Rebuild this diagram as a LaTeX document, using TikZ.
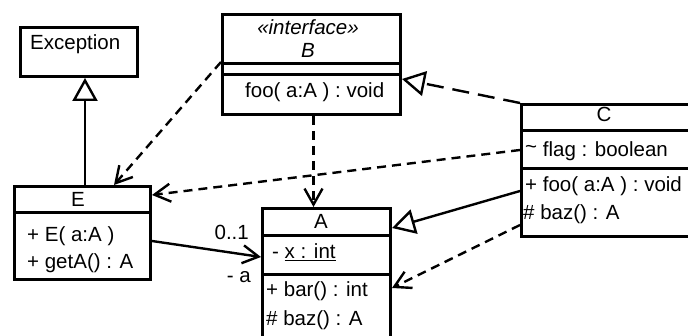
\documentclass[tikz,border=0pt]{standalone}
\usepackage{fontspec}
\setmainfont{Liberation Sans}
\usetikzlibrary{arrows.meta}

\tikzset{
  cls/.style={draw, line width=3pt, anchor=north west, inner sep=0pt},
  sep/.style={line width=3pt},
  txt/.style={inner sep=0pt, anchor=base west},
  ttl/.style={inner sep=0pt, anchor=base},
  dep/.style={line width=2.4pt, dash pattern=on 9pt off 6pt, -{Straight Barb[length=16pt,width=18pt]}},
  real/.style={line width=2.4pt, dash pattern=on 17pt off 9pt, -{Triangle[open,length=23pt,width=25pt]}},
  gen/.style={line width=2.4pt, -{Triangle[open,length=23pt,width=25pt]}},
  assoc/.style={line width=2.4pt, -{Straight Barb[length=16pt,width=18pt]}},
}

\begin{document}
\begin{tikzpicture}[x=1pt, y=-1pt, font=\fontsize{20.5}{24}\selectfont]
  \useasboundingbox (0,0) rectangle (688,336);

  % Exception
  \node[cls, minimum width=117, minimum height=49] (Exc) at (19,26) {};
  \node[txt] (Exc-name) at (30,50) {Exception};

  % interface B
  \node[cls, minimum width=178, minimum height=100] (B) at (221,13) {};
  \draw[sep] (B.west |- 0,64) -- (B.east |- 0,64);
  \draw[sep] (B.west |- 0,75) -- (B.east |- 0,75);
  \node[ttl] (B-st) at (308,35) {\itshape «interface»};
  \node[ttl] (B-name) at (308,58) {\itshape B};
  \node[txt] (B-m1) at (245,98) {foo( a:A ) : void};

  % C
  \node[cls, minimum width=180, minimum height=132] (C) at (520,103) {};
  \draw[sep] (C.west |- 0,131) -- (C.east |- 0,131);
  \draw[sep] (C.west |- 0,169) -- (C.east |- 0,169);
  \node[ttl] (C-name) at (604,122) {C};
  \node[txt] (C-a1) at (525,157) {\raisebox{3pt}{\textasciitilde}{} flag : boolean};
  \node[txt] (C-m1) at (525,192) {+ foo( a:A ) : void};
  \node[txt] (C-m2) at (523,220) {\# baz() : A};

  % E
  \node[cls, minimum width=136, minimum height=93] (E) at (13,185) {};
  \draw[sep] (E.west |- 0,213) -- (E.east |- 0,213);
  \node[ttl] (E-name) at (78,207) {E};
  \node[txt] (E-m1) at (27,242) {+ E( a:A )};
  \node[txt] (E-m2) at (27,269) {+ getA() : A};

  % A
  \node[cls, minimum width=128, minimum height=140] (A) at (261,207) {};
  \draw[sep] (A.west |- 0,236) -- (A.east |- 0,236);
  \draw[sep] (A.west |- 0,275) -- (A.east |- 0,275);
  \node[ttl] (A-name) at (321,229) {A};
  \node[txt] (A-a1) at (272,259) {- \underline{x : int}};
  \node[txt] (A-m1) at (266,297) {+ bar() : int};
  \node[txt] (A-m2) at (266,326) {\# baz() : A};

  % relations
  \draw[gen] (E.north -| 85,0) -- (Exc.south -| 85,0);
  \draw[dep] ([yshift=-49pt]B.north west) -- ([xshift=101pt]E.north west);
  \draw[dep] ([xshift=2pt]B.south) -- ([xshift=2pt]B.south |- A.north);
  \draw[real] (C.north west) -- ([yshift=-66pt]B.north east);
  \draw[dep] ([yshift=-47pt]C.north west) -- ([yshift=-10pt]E.north east);
  \draw[gen] ([yshift=-88pt]C.north west) -- ([yshift=-21pt]A.north east);
  \draw[dep] ([yshift=-122pt]C.north west) -- ([yshift=-81pt]A.north east);
  \draw[assoc] ([yshift=-56pt]E.north east) -- ([yshift=-50pt]A.north west);
  \node[inner sep=0pt, anchor=base east] (mult) at (249,240) {0..1};
  \node[inner sep=0pt, anchor=base east] (role) at (251,283) {- a};
\end{tikzpicture}
\end{document}
